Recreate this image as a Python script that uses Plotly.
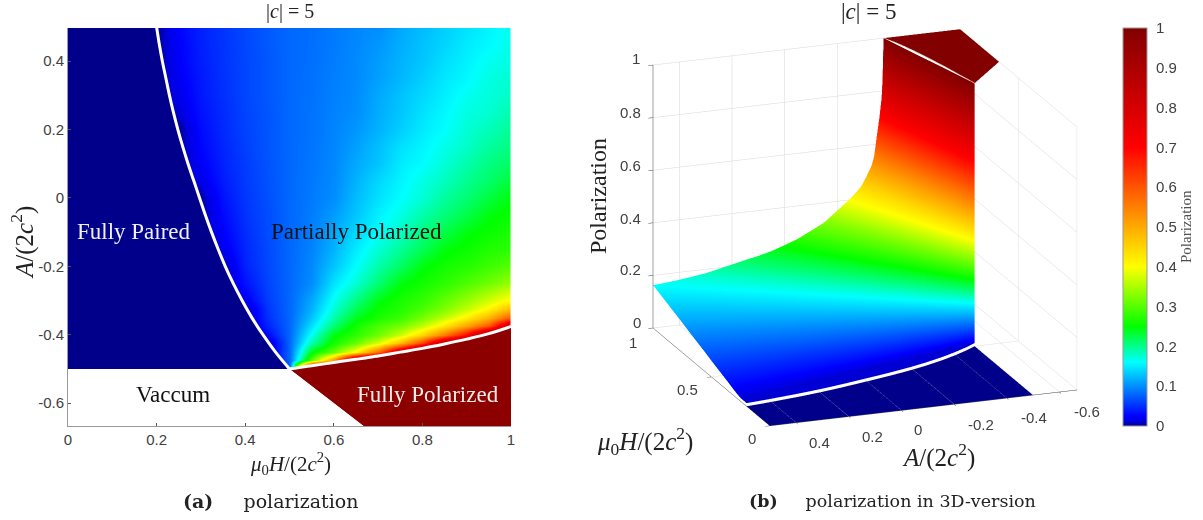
import plotly.graph_objects as go

# ---------- data ----------
grid_H = [.2,.25,.3,.35,.4,.45,.5,.55,.6,.65,.7,.75,.8,.85,.9,.95,1]
grid_A = [-.5,-.475,-.45,-.425,-.4,-.375,-.35,-.325,-.3,-.25,-.2,-.15,-.1,-.05,0,.05,.1,.15,.2,.25,.3,.35,.4,.45,.5]
grid_P = [
 [0,0,0,0,0,0,.08,1,1,1,1,1,1,1,1,1,1],
 [0,0,0,0,0,0,.08,.30,.52,.92,1,1,1,1,1,1,1],
 [0,0,0,0,0,0,.08,.245,.31,.41,.58,.83,1,1,1,1,1],
 [0,0,0,0,0,0,.08,.19,.26,.31,.38,.48,.63,.87,1,1,1],
 [0,0,0,0,0,.027,.08,.165,.245,.275,.315,.37,.45,.56,.7,.95,1],
 [0,0,0,0,0,.042,.08,.145,.21,.26,.295,.32,.365,.43,.51,.6,.85],
 [0,0,0,0,0,.05,.08,.13,.19,.24,.265,.285,.32,.365,.42,.49,.6],
 [0,0,0,0,0,.053,.08,.12,.175,.22,.255,.27,.295,.325,.365,.41,.48],
 [0,0,0,0,.018,.057,.08,.115,.165,.205,.245,.265,.28,.31,.34,.375,.41],
 [0,0,0,0,.035,.061,.08,.10,.145,.175,.21,.245,.26,.275,.295,.315,.34],
 [0,0,0,.002,.043,.063,.08,.098,.13,.16,.19,.215,.245,.26,.27,.285,.30],
 [0,0,0,.018,.046,.064,.08,.095,.12,.15,.175,.197,.22,.245,.255,.268,.275],
 [0,0,0,.025,.049,.065,.08,.093,.115,.14,.16,.18,.205,.225,.245,.255,.265],
 [0,0,0,.03,.052,.066,.08,.091,.108,.13,.153,.17,.19,.208,.225,.245,.255],
 [0,0,.002,.035,.054,.067,.08,.09,.10,.125,.145,.16,.175,.195,.21,.228,.245],
 [0,0,.015,.04,.056,.068,.08,.089,.098,.12,.14,.155,.17,.183,.20,.213,.23],
 [0,0,.022,.043,.057,.069,.08,.088,.097,.115,.13,.15,.16,.175,.19,.205,.215],
 [0,0,.027,.045,.059,.07,.08,.087,.096,.11,.127,.145,.155,.168,.18,.195,.205],
 [0,0,.03,.047,.06,.07,.08,.086,.095,.105,.12,.135,.15,.16,.175,.185,.197],
 [0,.01,.034,.048,.061,.07,.08,.086,.094,.10,.117,.13,.145,.157,.17,.175,.19],
 [0,.016,.037,.05,.062,.071,.08,.085,.093,.099,.115,.128,.14,.152,.165,.172,.18],
 [0,.02,.038,.051,.062,.071,.08,.085,.092,.098,.11,.122,.135,.148,.157,.17,.176],
 [0,.023,.04,.052,.062,.071,.08,.084,.091,.098,.108,.12,.13,.143,.153,.165,.17],
 [0,.024,.041,.052,.063,.072,.08,.084,.09,.097,.105,.117,.128,.138,.15,.157,.168],
 [0,.027,.042,.053,.063,.072,.08,.083,.09,.096,.10,.115,.125,.135,.145,.155,.165],
]

paired_A = [.5,.45,.4,.35,.3,.25,.2,.15,.1,.05,0,-.05,-.1,-.15,-.2,-.25,-.3,-.35,-.4,-.45,-.5]
paired_H = [.2,.206,.213,.221,.229,.238,.248,.259,.271,.284,.297,.31,.324,.339,.355,.373,.393,.415,.44,.468,.5]

polar_H = [.5,.55,.6,.65,.667,.7,.75,.8,.85,.9,.95,1]
polar_A = [-.5,-.491,-.481,-.472,-.469,-.462,-.451,-.44,-.427,-.413,-.397,-.376]
polar_low = [-.5,-.55,-.6,-.65,-.667,-.667,-.667,-.667,-.667,-.667,-.667,-.667]

vacuum_H = [0,.5,.667,0]
vacuum_A = [-.5,-.5,-.667,-.667]

# rim of the partially polarized fan, seen from the point (0.5, -0.5)
rim_H = [1,1,1,1,1,1,1,1,1,1,1,1,1,1,1,1,1,1,1,1,1,1,1,1,1,
         .95,.9,.85,.8,.75,.7,.65,.6,.55,.5,.45,.4,.35,.3,.25,.2,
         .206,.213,.221,.229,.238,.248,.259,.271,.284,.297,.31,.324,.339,.355,.373,.393,.415,.44,.468]
rim_A = [-.376,-.374,-.372,-.37,-.368,-.36,-.35,-.34,-.33,-.31,-.29,-.25,-.2,-.15,-.1,-.05,0,.05,.1,.2,.3,.4,.45,.5,.5,
         .5,.5,.5,.5,.5,.5,.5,.5,.5,.5,.5,.5,.5,.5,.5,.5,
         .45,.4,.35,.3,.25,.2,.15,.1,.05,0,-.05,-.1,-.15,-.2,-.25,-.3,-.35,-.4,-.45]
rim_P = [1,.93,.85,.8,.77,.70,.63,.555,.52,.48,.445,.405,.365,.325,.30,.275,.257,.24,.228,.207,.185,.172,.167,.163,.163,
         .153,.143,.133,.123,.113,.102,.092,.082,.072,.061,.051,.041,.031,.02,.012,.012,
         .012,.012,.012,.012,.012,.012,.012,.012,.012,.012,.012,.012,.012,.012,.012,.012,.012,.012,.012]

cbar_vals = [0,.1,.2,.3,.4,.5,.6,.7,.8,.9,1]
cbar_text = ["0","0.1","0.2","0.3","0.4","0.5","0.6","0.7","0.8","0.9","1"]
x_ticks = [0,.2,.4,.6,.8,1]
x_text = ["0","0.2","0.4","0.6","0.8","1"]
y_ticks = [-.6,-.4,-.2,0,.2,.4]
y_text = ["-0.6","-0.4","-0.2","0","0.2","0.4"]
z3_ticks = [0,.2,.4,.6,.8,1]
h3_ticks = [0,.5,1]

scale = [[0,"rgb(0,0,139)"],[.012,"rgb(0,0,225)"],[.025,"rgb(0,0,255)"],[.16,"rgb(0,255,255)"],
         [.25,"rgb(0,255,0)"],[.40,"rgb(255,255,0)"],[.70,"rgb(255,0,0)"],[1,"rgb(130,0,0)"]]

W, H = 1203, 520
SERIF = "Liberation Serif"
SANS = "Liberation Sans"
MU = "<i>μ</i><sub>0</sub><i>H</i>/(2<i>c</i><sup>2</sup>)"
AA = "<i>A</i>/(2<i>c</i><sup>2</sup>)"
TITLE = "|<i>c</i>| = 5"
GAP = "\u00a0" * 5

fig = go.Figure()
fig.add_trace(go.Heatmap(x=grid_H, y=grid_A, z=grid_P, zsmooth="best", coloraxis="coloraxis", hoverinfo="skip"))
fig.add_trace(go.Scatter(x=[0]+paired_H+[0], y=[.5]+paired_A+[-.5], fill="toself", fillcolor="rgb(0,0,139)",
                         mode="none", hoverinfo="skip"))
fig.add_trace(go.Scatter(x=polar_H+[1,.667], y=polar_A+[-.667,-.667], fill="toself", fillcolor="rgb(140,0,0)",
                         mode="none", hoverinfo="skip"))
fig.add_trace(go.Scatter(x=vacuum_H, y=vacuum_A, fill="toself", fillcolor="white", mode="none", hoverinfo="skip"))
fig.add_trace(go.Scatter(x=paired_H, y=paired_A, mode="lines", line=dict(color="white", width=3, shape="spline"), hoverinfo="skip"))
fig.add_trace(go.Scatter(x=polar_H, y=polar_A, mode="lines", line=dict(color="white", width=3, shape="spline"), hoverinfo="skip"))

LIGHT = dict(ambient=1, diffuse=0, specular=0, roughness=1, fresnel=0)
fan_x = [[.5]*len(rim_H), rim_H]
fan_y = [[-.5]*len(rim_A), rim_A]
fan_z = [rim_P, rim_P]
fig.add_trace(go.Surface(x=fan_x, y=fan_y, z=fan_z, surfacecolor=fan_z, coloraxis="coloraxis", lighting=LIGHT,
                         scene="scene", hoverinfo="skip"))
floor_x = [[0, h] for h in paired_H]
floor_y = [[a, a] for a in paired_A]
floor_z = [[0, 0] for a in paired_A]
fig.add_trace(go.Surface(x=floor_x, y=floor_y, z=floor_z, surfacecolor=floor_z, coloraxis="coloraxis",
                         lighting=LIGHT, scene="scene", hoverinfo="skip"))
top_x = [[h, h] for h in polar_H]
top_y = [[lo, a] for lo, a in zip(polar_low, polar_A)]
top_z = [[1, 1] for a in polar_A]
fig.add_trace(go.Surface(x=top_x, y=top_y, z=top_z, surfacecolor=top_z, coloraxis="coloraxis",
                         lighting=LIGHT, scene="scene", hoverinfo="skip"))
fig.add_trace(go.Scatter3d(x=paired_H, y=paired_A, z=[0]*len(paired_H), mode="lines",
                           line=dict(color="white", width=1), scene="scene", hoverinfo="skip"))
fig.add_trace(go.Scatter3d(x=polar_H, y=polar_A, z=[1]*len(polar_H), mode="lines",
                           line=dict(color="#f3e4dc", width=1.5), scene="scene", hoverinfo="skip"))

def ax3(vals, rng):
    return dict(range=rng, tickvals=vals, title="", showticklabels=False, showbackground=False, showgrid=True,
                gridcolor="#d8d8d8", gridwidth=1, zeroline=False, showline=True, linecolor="#444444", linewidth=1,
                ticks="outside", ticklen=5, tickcolor="#444444", showspikes=False)

fig.update_layout(
    width=W, height=H, autosize=False, showlegend=False, paper_bgcolor="white", plot_bgcolor="white",
    margin=dict(l=0, r=0, t=0, b=0, autoexpand=False),
    xaxis=dict(domain=[68/W, 511/W], range=[0, 1], tickvals=x_ticks, ticktext=x_text, ticks="inside", ticklen=3,
               tickcolor="#555", showline=True, linecolor="#999", linewidth=1, showgrid=False, zeroline=False,
               tickfont=dict(family=SANS, size=15, color="#404040")),
    yaxis=dict(domain=[1-426/H, 1-28/H], range=[-.667, .497], tickvals=y_ticks, ticktext=y_text, ticks="inside", ticklen=3,
               tickcolor="#555", showline=True, linecolor="#999", linewidth=1, showgrid=False, zeroline=False,
               tickfont=dict(family=SANS, size=15, color="#404040")),
    coloraxis=dict(colorscale=scale, cmin=0, cmax=1,
                   colorbar=dict(x=1123/W, xanchor="left", y=1-28/H, yanchor="top", lenmode="pixels", len=398,
                                 thicknessmode="pixels", thickness=24, tickvals=cbar_vals, ticktext=cbar_text,
                                 outlinecolor="#999", outlinewidth=1, ticks="outside", ticklen=6,
                                 tickcolor="rgba(0,0,0,0)", xpad=0, ypad=0,
                                 tickfont=dict(family=SANS, size=15, color="#404040"))),
    scene=dict(domain=dict(x=[545/W, 1185/W], y=[1-455/H, 1]),
               xaxis=ax3(h3_ticks, [0, 1]),
               yaxis=ax3(y_ticks, [-.667, .5]),
               zaxis=ax3(z3_ticks, [0, 1]),
               aspectmode="manual", aspectratio=dict(x=1.468, y=1.441, z=1.217),
               camera=dict(projection=dict(type="orthographic"), eye=dict(x=-1.2, y=.448, z=.4215),
                           up=dict(x=0, y=0, z=1), center=dict(x=0, y=0, z=0))),
)

def note(px, py, text, size, color="black", family=SERIF, angle=0):
    fig.add_annotation(xref="paper", yref="paper", x=px/W, y=1-py/H, text=text, showarrow=False, textangle=angle,
                       font=dict(family=family, size=size, color=color), xanchor="center", yanchor="middle")

note(290, 11, TITLE, 20, "#222")
note(868, 11, TITLE, 23, "#222")
note(134, 231, "Fully Paired", 23, "#f0f0f5")
note(356, 231, "Partially Polarized", 23, "#111")
note(173, 394, "Vaccum", 23, "#111")
note(428, 394, "Fully Polarized", 23, "#f5eaea")
note(22, 243, AA, 25, "#222", angle=-90)
note(290, 463, MU, 21, "#222")
note(598, 196, "Polarization", 24, "#222", angle=-90)
note(645, 441, MU, 25, "#222")
note(938, 455, AA, 25, "#222")
note(1186, 227, "Polarization", 15, "#505050", angle=-90)
note(270, 501, "<b>(a)</b>" + GAP + "polarization", 19, "#222", "DejaVu Serif")
note(892, 501, "<b>(b)</b>" + GAP + "polarization in 3D-version", 17.5, "#222", "DejaVu Serif")

for label, px, py in [("1",636,58),("0.8",630,112),("0.6",630,165),("0.4",630,218),("0.2",630,269),("0",637,322),
                      ("1",633,342),("0.5",687,389),("0",752,438),
                      ("0.4",819,442),("0.2",872,436),("0",918,429),("-0.2",981,424),("-0.4",1034,417),("-0.6",1087,411)]:
    note(px, py, label, 15, "#404040", SANS)

fig.write_html("out.html", post_script="document.body.style.margin='0';", config=dict(displayModeBar=False))
